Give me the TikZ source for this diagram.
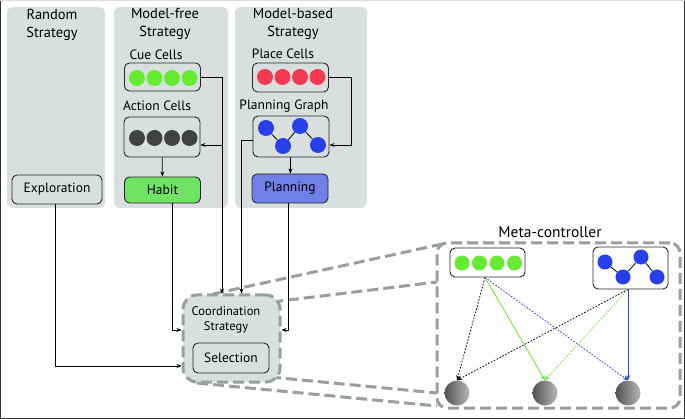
\documentclass[tikz,border=0pt]{standalone}
\usepackage{fontspec}
\setmainfont{PT Sans}
\usetikzlibrary{arrows.meta}

\definecolor{panelgray}{RGB}{217,223,222}
\definecolor{dashgray}{RGB}{150,160,158}
\definecolor{cuegreen}{RGB}{102,235,51}
\definecolor{habitgreen}{RGB}{112,226,100}
\definecolor{placered}{RGB}{242,58,82}
\definecolor{actiongray}{RGB}{64,66,66}
\definecolor{graphblue}{RGB}{40,64,235}
\definecolor{planblue}{RGB}{112,128,232}

\begin{document}
\begin{tikzpicture}[x = 1pt, y = -1pt, font = \fontsize{13.5}{16}\selectfont,
    panel/.style = {fill = panelgray, rounded corners = 6pt},
    cellbox/.style = {draw = black!85, line width = 0.9pt, rounded corners = 5pt, fill = panelgray, minimum width = 76pt, inner sep = 0pt},
    dot/.style = {shape = circle, inner sep = 0pt, minimum size = 16pt},
    arr/.style = {-{Stealth[length = 5pt, width = 4pt]}, line width = 0.8pt},
    zoomline/.style = {draw = dashgray, line width = 3pt, dash pattern = on 11pt off 5pt},
    dotted line/.style = {dash pattern = on 1.6pt off 1.6pt},
    ball/.style = {shape = circle, inner sep = 0pt, minimum size = 25pt, left color = black!68, right color = black!28}]
    \useasboundingbox (0,0) rectangle (685,419);
    % frame
    \draw[black!80, line width = 1.5pt] (0,0) -- (0,419) -- (685,419) -- (685,0);
    \draw[panelgray, line width = 1.5pt] (0,0) -- (685,0);

    % strategy panels
    \fill[panel] (7,7) rectangle (105,208);
    \fill[panel] (114,7) rectangle (228,208);
    \fill[panel] (235,7) rectangle (367,208);
    \node[align = center, font = \fontsize{14.5}{18}\selectfont] (randtitle) at (52,25) {Random\\Strategy};
    \node[align = center, font = \fontsize{14.5}{18}\selectfont] (freetitle) at (165,24) {Model-free\\Strategy};
    \node[align = center, font = \fontsize{14.5}{18}\selectfont] (basedtitle) at (293,24) {Model-based\\Strategy};

    % model-free
    \node (cuelabel) at (156,55) {Cue Cells};
    \node[cellbox, minimum height = 28pt] (cue) at (162.5,77) {};
    \foreach \x [count = \i] in {137,154.5,172,189.5}
        \node[dot, fill = cuegreen] (cue\i) at (\x,78) {};
    \node (actionlabel) at (157,106) {Action Cells};
    \node[cellbox, minimum height = 40pt] (action) at (162,137) {};
    \foreach \x [count = \i] in {137,154.5,172,189.5}
        \node[dot, fill = actiongray] (act\i) at (\x,138) {};
    \node[cellbox, fill = habitgreen, minimum height = 26pt] (habit) at (162.5,190) {Habit};

    % random
    \node[cellbox, minimum width = 90pt, minimum height = 29pt] (explo) at (57,189.5) {Exploration};

    % model-based
    \node (placelabel) at (283,54) {Place Cells};
    \node[cellbox, minimum height = 29pt] (place) at (290.5,77.5) {};
    \foreach \x [count = \i] in {265,282.5,300,317.5}
        \node[dot, fill = placered] (place\i) at (\x,77) {};
    \node (graphlabel) at (284,106) {Planning Graph};
    \node[cellbox, minimum height = 41pt] (graph) at (291,136.5) {};
    \node[dot, fill = graphblue] (g1) at (266,128) {};
    \node[dot, fill = graphblue] (g2) at (283,146) {};
    \node[dot, fill = graphblue] (g3) at (300,126) {};
    \node[dot, fill = graphblue] (g4) at (318,145) {};
    \draw[line width = 0.8pt] (g1) -- (g2) -- (g3) -- (g4);
    \node[cellbox, fill = planblue, minimum height = 29pt] (planning) at (290,188.5) {Planning};

    % meta-controller and zoom lines
    \coordinate (za) at (213,294);
    \coordinate (zb) at (272,302);
    \coordinate (zc) at (270,377);
    \coordinate (zd) at (197,383);
    \coordinate (ma) at (447,243);
    \coordinate (mb) at (437,282);
    \coordinate (mc) at (437,393);
    \coordinate (md) at (437,406);
    \draw[zoomline] (za) -- (ma);
    \draw[zoomline] (zb) -- (mb);
    \draw[zoomline] (zc) -- (mc);
    \draw[zoomline] (zd) -- (md);
    \node[zoomline, rounded corners = 10pt, minimum width = 243pt, minimum height = 165pt] (meta) at (558.5,325.5) {};
    \node[font = \fontsize{15.5}{18}\selectfont] (metatitle) at (550,232) {Meta-controller};

    % coordination
    \node[zoomline, fill = panelgray, rounded corners = 14pt, minimum width = 97pt, minimum height = 87pt] (coord) at (231.5,338.5) {};
    \node[align = center, font = \fontsize{12.5}{15}\selectfont] (coordtitle) at (226,320) {Coordination\\Strategy};
    \node[cellbox, minimum height = 30pt] (select) at (231,358) {Selection};

    % connections
    \coordinate (cuebus) at (222,145);
    \draw[arr] (cue.east) -| ([xshift = -9.5pt]coord.north);
    \draw[arr] (cuebus) -- (cuebus -| action.east);
    \draw[arr] (place.east) -- ++(22,0) |- (graph.east |- cuebus);
    \draw[arr] ([yshift = -3.5pt]graph.west) -| ([xshift = 10pt]coord.north);
    \draw[arr] (action) -- (habit);
    \draw[arr] (graph) -- (planning);
    \draw[arr] ([xshift = 9.5pt]habit.south) |- ([yshift = 8.5pt]coord.west);
    \draw[arr] ([xshift = -2pt]planning.south) |- ([yshift = 8.5pt]coord.east);
    \draw[arr] ([xshift = -2pt]explo.south) |- ([yshift = -27.5pt]coord.west);

    % meta-controller content
    \node[cellbox, fill = white, minimum width = 75pt, minimum height = 29pt] (mcue) at (487.5,262.5) {};
    \foreach \x [count = \i] in {462,479.5,497,514.5}
        \node[dot, fill = cuegreen, minimum size = 15pt] (mcue\i) at (\x,263) {};
    \node[cellbox, fill = white, minimum width = 75pt, minimum height = 42pt] (mgraph) at (630.5,268) {};
    \node[dot, fill = graphblue, minimum size = 15pt] (mg1) at (605,262) {};
    \node[dot, fill = graphblue, minimum size = 15pt] (mg2) at (623,277) {};
    \node[dot, fill = graphblue, minimum size = 15pt] (mg3) at (641,257) {};
    \node[dot, fill = graphblue, minimum size = 15pt] (mg4) at (657,277) {};
    \draw[line width = 0.8pt] (mg1) -- (mg2) -- (mg3) -- (mg4);
    \node[ball] (ballA) at (457,393) {};
    \node[ball] (ballB) at (545,393) {};
    \node[ball] (ballC) at (628,393) {};

    \draw[arr, dotted line] ([xshift = -2.5pt]mcue.south) -- (ballA.north);
    \draw[arr, cuegreen] ([xshift = -2.5pt]mcue.south) -- (ballB.north);
    \draw[arr, dotted line, graphblue] ([xshift = -2.5pt]mcue.south) -- (ballC.north);
    \draw[arr, dotted line] ([xshift = -2.5pt]mgraph.south) -- (ballA.north);
    \draw[arr, dotted line, cuegreen] ([xshift = -2.5pt]mgraph.south) -- (ballB.north);
    \draw[arr, graphblue] ([xshift = -2.5pt]mgraph.south) -- (ballC.north);
\end{tikzpicture}
\end{document}
